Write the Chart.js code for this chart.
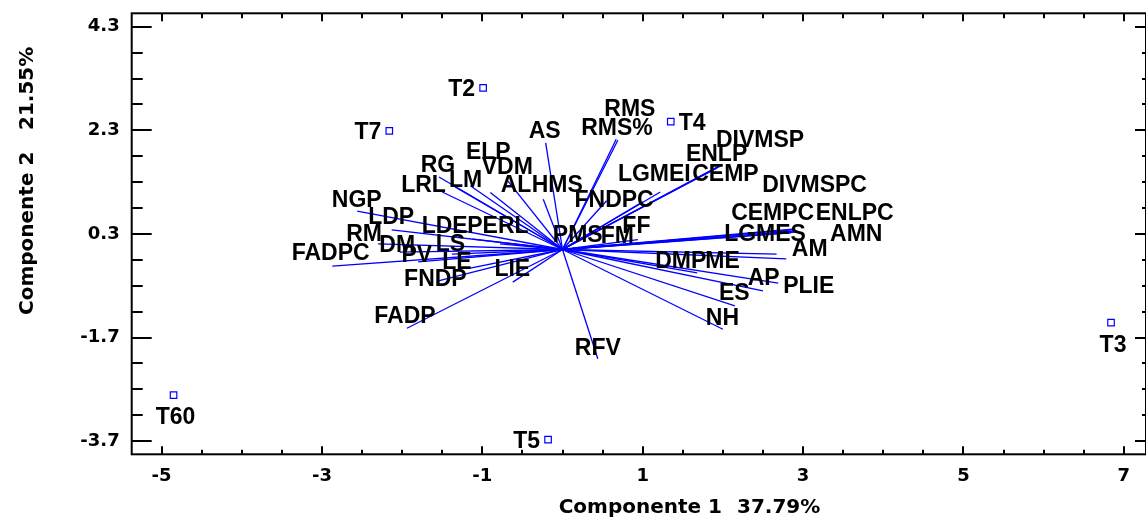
<!DOCTYPE html>
<html>
<head>
<meta charset="utf-8">
<script src="https://cdn.jsdelivr.net/npm/chart.js@4.4.1/dist/chart.umd.min.js"></script>
<style>
  html, body { margin: 0; padding: 0; background: #fff; }
</style>
</head>
<body>
<canvas id="biplot" width="1146" height="519"></canvas>
<script>
// OBSERVATIONS (component scores)
const obsNames = ['T2', 'T7', 'T4', 'T3', 'T60', 'T5'];
const obsX = [-0.99, -2.16, 1.35, 6.84, -4.85, -0.18];
const obsY = [3.12, 2.29, 2.47, -1.41, -2.81, -3.67];

// VARIABLES (loading vectors, tip coordinates)
const varNames = ['NGP', 'LDP', 'RM', 'DM', 'FADPC', 'PV', 'LS', 'LE', 'LDE', 'PERL',
  'FNDP', 'LIE', 'FADP', 'RG', 'LRL', 'LM', 'ELP', 'VDM', 'AL', 'HMS',
  'AS', 'RMS%', 'RMS', 'FNDPC', 'LGMEI', 'CEMP', 'ENLP', 'DIVMSP', 'FF', 'FM',
  'PMS', 'DIVMSPC', 'CEMPC', 'ENLPC', 'LGMES', 'AMN', 'AM', 'ME', 'DMP', 'AP',
  'PLIE', 'ES', 'NH', 'RFV'];
const varX = [-2.56, -2.13, -2.30, -2.03, -2.87, -1.80, -1.38, -1.15, -1.12, -0.78,
  -1.56, -0.62, -1.94, -1.54, -1.50, -1.34, -1.15, -0.90, -0.68, -0.24,
  -0.21, 0.67, 0.69, 0.55, 1.22, 1.92, 1.95, 1.99, 1.00, 0.94,
  0.43, 2.90, 2.87, 2.92, 2.85, 2.94, 2.79, 2.67, 1.68, 2.50,
  2.69, 2.15, 2.00, 0.44];
const varY = [0.74, 0.38, 0.11, -0.05, -0.32, -0.24, -0.09, -0.36, 0.20, 0.11,
  -0.61, -0.63, -1.52, 1.40, 1.11, 1.21, 1.23, 1.10, 1.32, 0.97,
  2.06, 2.13, 2.11, 0.94, 1.11, 1.57, 1.61, 1.63, 0.92, 0.19,
  0.40, 0.40, 0.38, 0.36, 0.32, 0.34, -0.18, -0.09, -0.45, -0.80,
  -0.65, -1.09, -1.54, -2.11];

// TICKS
const xTicks = [-5, -3, -1, 1, 3, 5, 7];
const yTicks = [-3.7, -1.7, 0.3, 2.3, 4.3];

// label placement (pixels from the tip / marker)
const varLabelShift = [[-0.5, -12.5], [-0.5, -13.5], [-14, -10.5], [-2.5, -8.5], [-1.7, -14],
  [-1.3, -8], [-1.5, -11.5], [-13.3, -7], [-28, -14], [-2, -19],
  [-2, -3.5], [-0.5, -14.5], [-2, -13.5], [-1, -13], [-18.7, -8],
  [10.5, -8], [18, -35], [17, -26.5], [8, 3], [14, -15],
  [-1, -13], [0.7, -12.3], [12, -32], [7.5, -2], [-6, -18.7],
  [9, 5.3], [-2.3, -12.7], [38, -26], [-6.3, 23], [-20.5, -4.2],
  [-19.2, 5], [19.5, -45], [-20, -17.5], [58, -18.5], [-26, 0],
  [58, 1], [23.5, -10.5], [-54, 6], [-16.5, -13], [0.7, -14.3],
  [30.5, 2], [-0.7, -13.5], [-0.5, -12.5], [0, -11.5]];
const obsLabelSide = ['left', 'left', 'right', 'below', 'below', 'left'];

const BLUE = '#0000ff';
const AXIS_FONT = '"DejaVu Sans", sans-serif';
const LABEL_FONT = 'bold 23px "Liberation Sans", Arial, sans-serif';

const vectorSets = varNames.map((n, i) => ({
  label: n,
  data: [{x: 0, y: 0}, {x: varX[i], y: varY[i]}],
  showLine: true,
  borderColor: BLUE,
  borderWidth: 1.3,
  pointRadius: 0,
  pointHoverRadius: 0
}));

const obsSet = {
  label: 'obs',
  data: obsNames.map((n, i) => ({x: obsX[i], y: obsY[i]})),
  pointStyle: 'rect',
  pointRadius: 4.6,
  borderWidth: 1.2,
  borderColor: BLUE,
  backgroundColor: 'rgba(255,255,255,0)'
};

// frame, inward tick marks, axis titles
const framePlugin = {
  id: 'frame',
  afterDraw(chart) {
    const {ctx, chartArea: a, scales: {x, y}} = chart;
    ctx.save();
    ctx.strokeStyle = '#000';
    ctx.lineWidth = 2;
    ctx.strokeRect(a.left, a.top, a.right - a.left, a.bottom - a.top);

    const xMinor = [], yMinor = [];
    for (let v = xTicks[0] - 1.5; v <= xTicks[xTicks.length - 1] + 1.5; v += 0.5) {
      if (v >= x.min && v <= x.max) xMinor.push(v);
    }
    for (let v = yTicks[0] - 1.5; v <= yTicks[yTicks.length - 1] + 1.5; v += 0.5) {
      if (v >= y.min && v <= y.max) yMinor.push(v);
    }
    const isMajor = (arr, v) => arr.some(t => Math.abs(t - v) < 1e-6);

    ctx.beginPath();
    xMinor.forEach(v => {
      const px = Math.round(x.getPixelForValue(v));
      const maj = isMajor(xTicks, v);
      ctx.moveTo(px, a.bottom); ctx.lineTo(px, a.bottom - (maj ? 8 : 4.5));
      ctx.moveTo(px, a.top); ctx.lineTo(px, a.top + (maj ? 8 : 5));
    });
    yMinor.forEach(v => {
      const py = Math.round(y.getPixelForValue(v));
      const maj = isMajor(yTicks, v);
      ctx.moveTo(a.left, py); ctx.lineTo(a.left + (maj ? 20 : 11), py);
      ctx.moveTo(a.right, py); ctx.lineTo(a.right - (maj ? 11 : 4), py);
    });
    ctx.stroke();

    ctx.fillStyle = '#000';
    ctx.font = 'bold 20px ' + AXIS_FONT;
    ctx.textBaseline = 'alphabetic';
    ctx.textAlign = 'right';
    ctx.fillText('Componente 1', 722, 513);
    ctx.textAlign = 'left';
    ctx.fillText('37.79%', 737, 513);

    ctx.translate(33, 0);
    ctx.rotate(-Math.PI / 2);
    ctx.textAlign = 'left';
    ctx.fillText('Componente 2', -315, 0);
    ctx.fillText('21.55%', -130, 0);
    ctx.restore();
  }
};

// names at vector tips and next to the observation markers
const labelPlugin = {
  id: 'labels',
  afterDatasetsDraw(chart) {
    const {ctx, scales: {x, y}} = chart;
    ctx.save();
    ctx.fillStyle = '#000';
    ctx.font = LABEL_FONT;
    ctx.textBaseline = 'alphabetic';
    ctx.textAlign = 'center';
    varNames.forEach((n, i) => {
      const px = x.getPixelForValue(varX[i]);
      const py = y.getPixelForValue(varY[i]);
      const [dx, dy] = varLabelShift[i];
      ctx.fillText(n, px + dx, py + dy + 8);
    });
    obsNames.forEach((n, i) => {
      const px = x.getPixelForValue(obsX[i]);
      const py = y.getPixelForValue(obsY[i]);
      const side = obsLabelSide[i];
      if (side === 'left') {
        ctx.textAlign = 'right';
        ctx.fillText(n, px - 8, py + 8);
      } else if (side === 'right') {
        ctx.textAlign = 'left';
        ctx.fillText(n, px + 8, py + 8);
      } else {
        ctx.textAlign = 'center';
        ctx.fillText(n, px + 2, py + 21 + 8);
      }
    });
    ctx.restore();
  }
};

new Chart(document.getElementById('biplot'), {
  type: 'scatter',
  data: { datasets: [...vectorSets, obsSet] },
  options: {
    responsive: false,
    devicePixelRatio: 1,
    animation: false,
    layout: { autoPadding: false, padding: { top: 13.3, right: 0, bottom: 0, left: 0 } },
    plugins: { legend: { display: false }, tooltip: { enabled: false } },
    scales: {
      x: {
        type: 'linear',
        min: -5.372,
        max: 7.276,
        grid: { display: false, drawTicks: false },
        border: { display: false },
        afterBuildTicks: s => { s.ticks = xTicks.map(v => ({value: v})); },
        afterFit: s => { s.height = 64.7; s.paddingLeft = 0; s.paddingRight = 0; },
        ticks: {
          autoSkip: false,
          maxRotation: 0,
          padding: 11,
          color: '#000',
          font: { family: AXIS_FONT, weight: 'bold', size: 18 },
          callback: v => String(v)
        }
      },
      y: {
        type: 'linear',
        min: -3.954,
        max: 4.560,
        grid: { display: false, drawTicks: false },
        border: { display: false },
        afterBuildTicks: s => { s.ticks = yTicks.map(v => ({value: v})); },
        afterFit: s => { s.width = 131.7; s.paddingTop = 0; s.paddingBottom = 0; },
        ticks: {
          autoSkip: false,
          padding: 12,
          color: '#000',
          font: { family: AXIS_FONT, weight: 'bold', size: 18 },
          callback: v => v.toFixed(1)
        }
      }
    }
  },
  plugins: [framePlugin, labelPlugin]
});
</script>
</body>
</html>
